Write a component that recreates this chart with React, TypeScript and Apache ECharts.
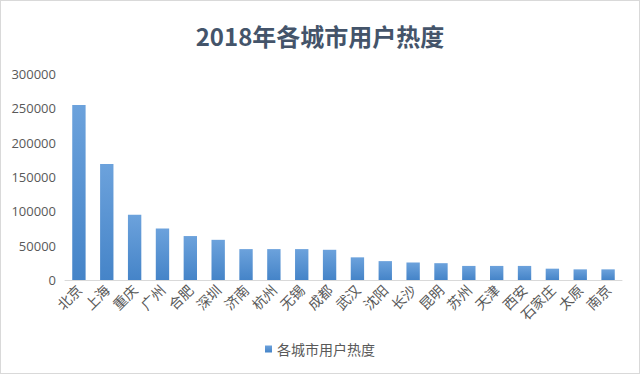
import React, { useEffect, useRef } from "react";
import * as echarts from "echarts";

const titleText = "2018年各城市用户热度";
const seriesName = "各城市用户热度";
const cities = ["北京", "上海", "重庆", "广州", "合肥", "深圳", "济南", "杭州", "无锡", "成都", "武汉", "沈阳", "长沙", "昆明", "苏州", "天津", "西安", "石家庄", "太原", "南京"];
const heat = [255000, 169000, 95000, 75000, 64000, 58500, 45000, 45000, 45000, 44000, 33000, 27500, 25500, 24500, 20500, 20500, 20500, 16500, 15500, 15500];
const yTicks = { min: 0, max: 300000, interval: 50000 };

export default function App() {
  const ref = useRef<HTMLDivElement>(null);
  useEffect(() => {
    if (!ref.current) return;
    const chart = echarts.init(ref.current, null, { renderer: "svg" });
    const font = "'Noto Sans CJK SC', 'Microsoft YaHei', sans-serif";
    chart.setOption({
      animation: false,
      backgroundColor: "#ffffff",
      title: {
        text: titleText,
        left: "center",
        top: 17,
        textStyle: { fontFamily: font, fontSize: 24, fontWeight: "bold", color: "#44546a" },
      },
      grid: { left: 64, right: 17, top: 73, bottom: 93, containLabel: false },
      legend: {
        bottom: 12,
        left: "center",
        itemWidth: 7,
        itemHeight: 7,
        itemGap: 4,
        icon: "rect",
        textStyle: { fontFamily: font, fontSize: 14, color: "#595959" },
        data: [seriesName],
      },
      xAxis: {
        type: "category",
        data: cities,
        axisLine: { show: true, lineStyle: { color: "#d9d9d9", width: 1 } },
        axisTick: { show: false },
        axisLabel: { rotate: 45, interval: 0, fontFamily: font, fontSize: 14, color: "#595959", margin: 7 },
      },
      yAxis: {
        type: "value",
        min: yTicks.min,
        max: yTicks.max,
        interval: yTicks.interval,
        axisLine: { show: false },
        axisTick: { show: false },
        splitLine: { show: false },
        axisLabel: {
          fontFamily: "'Open Sans', 'Noto Sans', sans-serif",
          fontSize: 13,
          color: "#595959",
          margin: 9,
          formatter: (v: number) => String(v),
        },
      },
      series: [
        {
          name: seriesName,
          type: "bar",
          data: heat,
          barWidth: "48%",
          itemStyle: {
            color: new echarts.graphic.LinearGradient(0, 0, 0, 1, [
              { offset: 0, color: "#6ca2dc" },
              { offset: 1, color: "#4584c8" },
            ]),
          },
        },
      ],
    });
    return () => chart.dispose();
  }, []);
  return (
    <div
      ref={ref}
      style={{ position: "fixed", left: 0, top: 0, width: 640, height: 374, boxSizing: "border-box", border: "1px solid #d9d9d9" }}
    />
  );
}
